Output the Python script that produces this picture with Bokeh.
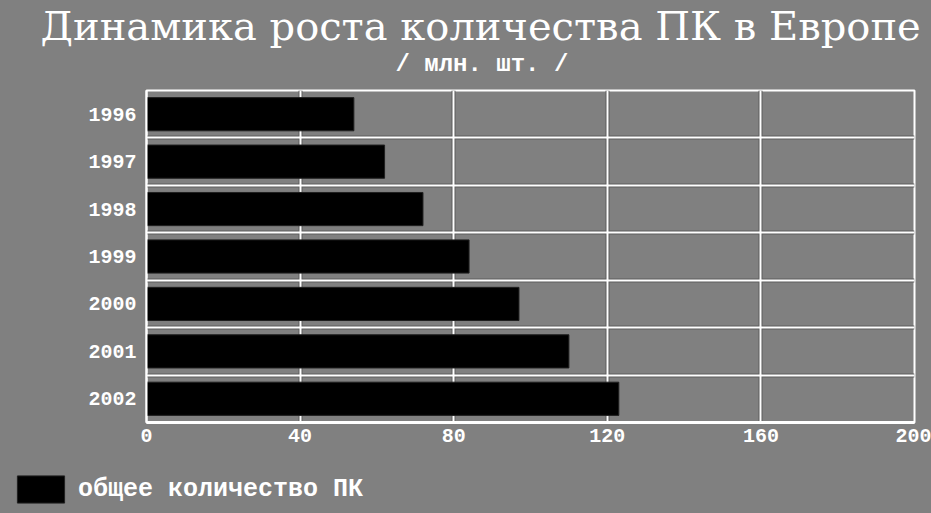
from bokeh.plotting import figure
from bokeh.layouts import column, row
from bokeh.models import (Range1d, FactorRange, FixedTicker, Title, Legend, LegendItem, Grid,
                          ColumnDataSource)
from bokeh.embed import file_html
from bokeh.resources import INLINE

# ---- data ----
years = ["1996", "1997", "1998", "1999", "2000", "2001", "2002"]
pc_total = [54, 62, 72, 84, 97, 110, 123]
x_ticks = [0, 40, 80, 120, 160, 200]
title_text = "Динамика роста количества ПК в Европе"
subtitle_text = "/ млн. шт. /"
legend_label = "общее количество ПК"

BG = "#808080"
SHADOW = "#5c5c5c"
MONO = "Liberation Mono"
BAR_STYLE = dict(fill_color="black", line_color="#202020", line_width=1)

source = ColumnDataSource(data=dict(year=years, total=pc_total))

p = figure(width=931, height=460, output_backend="svg", toolbar_location=None,
           x_range=Range1d(0, 200), y_range=FactorRange(factors=list(reversed(years))),
           min_border_left=146, min_border_right=17, min_border_bottom=38, min_border_top=0)
p.title = None
p.background_fill_color = BG
p.border_fill_color = BG
p.outline_line_color = "white"
p.outline_line_width = 2

r = p.hbar(y="year", right="total", left=0, height=0.7, source=source, **BAR_STYLE)

# axes
p.xaxis.ticker = FixedTicker(ticks=x_ticks)
p.xaxis.axis_line_color = "white"
p.xaxis.axis_line_width = 3
p.xaxis.major_tick_line_color = None
p.xaxis.minor_tick_line_color = None
p.xaxis.major_label_standoff = 0
p.xaxis.major_label_text_color = "white"
p.xaxis.major_label_text_font = MONO
p.xaxis.major_label_text_font_style = "bold"
p.xaxis.major_label_text_font_size = "20px"

p.yaxis.axis_line_color = "white"
p.yaxis.axis_line_width = 2
p.yaxis.major_tick_line_color = None
p.yaxis.minor_tick_line_color = None
p.yaxis.major_label_standoff = 4
p.yaxis.major_label_text_color = "white"
p.yaxis.major_label_text_font = MONO
p.yaxis.major_label_text_font_style = "bold"
p.yaxis.major_label_text_font_size = "20px"

# grids: dark shadow underneath, white line on top
p.xgrid.grid_line_color = SHADOW
p.xgrid.grid_line_width = 4
p.xgrid.ticker = FixedTicker(ticks=x_ticks)
p.ygrid.grid_line_color = SHADOW
p.ygrid.grid_line_width = 4
p.ygrid.ticker = FixedTicker(ticks=list(range(1, len(years))))
p.add_layout(Grid(dimension=0, ticker=FixedTicker(ticks=x_ticks),
                  grid_line_color="white", grid_line_width=2))
p.add_layout(Grid(dimension=1, ticker=FixedTicker(ticks=list(range(1, len(years)))),
                  grid_line_color="white", grid_line_width=2))

# titles (first added = closest to the plot)
p.add_layout(Title(text=" ", text_font_size="1px", standoff=10), "above")
p.add_layout(Title(text=subtitle_text, text_color="white", text_font=MONO,
                   text_font_style="bold", text_font_size="24px", align="left",
                   offset=249, standoff=0), "above")
p.add_layout(Title(text=title_text, text_color="white", text_font="DejaVu Serif",
                   text_font_style="normal", text_font_size="40px", align="left",
                   offset=-106, standoff=0), "above")

# legend strip below the chart: the same series, kept out of this strip's view,
# only serves as the legend swatch source
q = figure(width=931, height=53, output_backend="svg", toolbar_location=None,
           x_range=Range1d(-400, -300), y_range=FactorRange(factors=years),
           x_axis_type=None, y_axis_type=None,
           min_border_left=0, min_border_right=0, min_border_top=0, min_border_bottom=0)
q.title = None
q.background_fill_color = BG
q.border_fill_color = BG
q.outline_line_color = None
q.xgrid.visible = False
q.ygrid.visible = False
swatch = q.hbar(y="year", right="total", left=0, height=0.7, source=source, **BAR_STYLE)

legend = Legend(items=[LegendItem(label=legend_label, renderers=[swatch])],
                location=(11, 7), orientation="horizontal",
                glyph_width=59, glyph_height=34, label_standoff=8,
                padding=0, margin=0, background_fill_alpha=0, border_line_color=None,
                label_text_color="white", label_text_font=MONO,
                label_text_font_style="bold", label_text_font_size="25px")
q.add_layout(legend, "center")

page = column(p, row(q), spacing=0, styles={"background-color": BG})
open("out.html", "w").write(file_html(page, INLINE))
